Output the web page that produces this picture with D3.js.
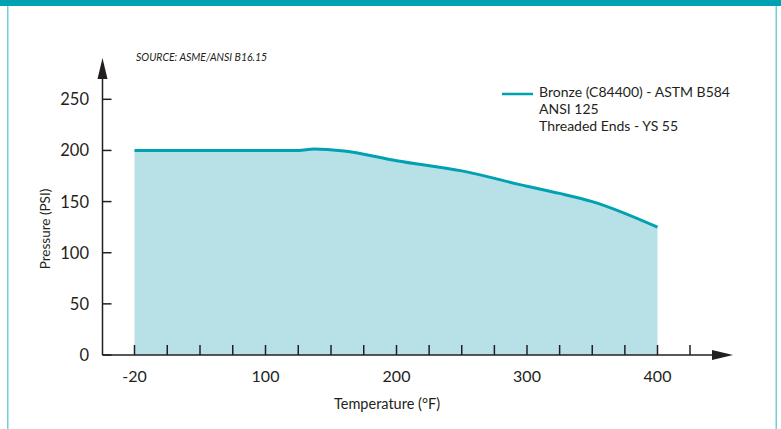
<!DOCTYPE html>
<html>
<head>
<meta charset="utf-8">
<script src="https://cdn.jsdelivr.net/npm/d3@7/dist/d3.min.js"></script>
<style>
  html, body { margin: 0; padding: 0; background: #fff; }
  svg { display: block; }
  text { font-family: Lato, "Open Sans", sans-serif; fill: #231f20; }
</style>
</head>
<body>
<svg id="chart" width="781" height="429"></svg>
<script>
// ---- data ----
const temps = [-20, 125, 137, 160, 200, 250, 300, 325, 350, 400];
const pressures = [200, 200, 201.5, 199.5, 190, 180, 165, 158, 150, 125];
const xLabels = [-20, 100, 200, 300, 400];
const xTicks = [-20, 10, 40, 70, 100, 125, 150, 175, 200, 225, 250, 275, 300, 325, 350, 375, 400, 425];
const yTicks = [0, 50, 100, 150, 200, 250];
const seriesName = ["Bronze (C84400) - ASTM B584", "ANSI 125", "Threaded Ends - YS 55"];
const sourceText = "SOURCE: ASME/ANSI B16.15";

const svg = d3.select("#chart");
const teal = "#00a1b1";
const fill = "#b8e1e7";
const ink = "#231f20";

// frame
svg.append("rect").attr("x", 0).attr("y", 0).attr("width", 781).attr("height", 6).attr("fill", teal);
svg.append("rect").attr("x", 7).attr("y", 6).attr("width", 1.5).attr("height", 423).attr("fill", "#72d0d8");
svg.append("rect").attr("x", 775.5).attr("y", 6).attr("width", 1.5).attr("height", 423).attr("fill", "#72d0d8");

// scales (polylinear: labelled ticks evenly spaced)
const x = d3.scaleLinear()
  .domain([-20, 100, 200, 300, 400, 425])
  .range([134.5, 265.5, 396.5, 527, 657.5, 690]);
const y = d3.scaleLinear().domain([0, 250]).range([355, 99.3]);

const data = temps.map((t, i) => ({ t, p: pressures[i] }));

// area
const area = d3.area().x(d => x(d.t)).y0(y(0)).y1(d => y(d.p)).curve(d3.curveMonotoneX);
svg.append("path").datum(data).attr("d", area).attr("fill", fill);

// line
const line = d3.line().x(d => x(d.t)).y(d => y(d.p)).curve(d3.curveMonotoneX);
svg.append("path").datum(data).attr("d", line)
  .attr("fill", "none").attr("stroke", teal).attr("stroke-width", 3);

// x axis
const x0 = 102.5, xEnd = 733, yAxisY = y(0);
svg.append("line").attr("x1", x0).attr("x2", xEnd - 18).attr("y1", yAxisY).attr("y2", yAxisY)
  .attr("stroke", ink).attr("stroke-width", 1.5);
svg.append("path").attr("d", `M${xEnd},${yAxisY} L${xEnd - 21},${yAxisY - 5} L${xEnd - 21},${yAxisY + 5} Z`).attr("fill", ink);
svg.append("g").selectAll("line").data(xTicks).join("line")
  .attr("x1", d => x(d)).attr("x2", d => x(d))
  .attr("y1", yAxisY).attr("y2", yAxisY - 10)
  .attr("stroke", ink).attr("stroke-width", 1.5);
svg.append("g").selectAll("text").data(xLabels).join("text")
  .attr("x", d => x(d)).attr("y", 382)
  .attr("text-anchor", "middle").attr("font-size", 16)
  .text(d => d);
svg.append("text").attr("x", 387).attr("y", 409).attr("text-anchor", "middle")
  .attr("font-size", 14.5).text("Temperature (°F)");

// y axis
const yTop = 58;
svg.append("line").attr("x1", x0).attr("x2", x0).attr("y1", yAxisY).attr("y2", yTop + 18)
  .attr("stroke", ink).attr("stroke-width", 1.5);
svg.append("path").attr("d", `M${x0},${yTop} L${x0 - 5},${yTop + 21} L${x0 + 5},${yTop + 21} Z`).attr("fill", ink);
svg.append("g").selectAll("line").data(yTicks).join("line")
  .attr("x1", x0).attr("x2", x0 + 9)
  .attr("y1", d => y(d)).attr("y2", d => y(d))
  .attr("stroke", ink).attr("stroke-width", 1.5);
svg.append("g").selectAll("text").data(yTicks).join("text")
  .attr("x", 89).attr("y", d => y(d) + 6)
  .attr("text-anchor", "end").attr("font-size", 16.5)
  .text(d => d);
svg.append("text").attr("transform", "translate(50,229) rotate(-90)")
  .attr("text-anchor", "middle").attr("font-size", 13.5).text("Pressure (PSI)");

// source
svg.append("text").attr("x", 136).attr("y", 61).attr("font-size", 10.5)
  .attr("font-style", "italic").text(sourceText);

// legend
svg.append("line").attr("x1", 502).attr("x2", 533).attr("y1", 94).attr("y2", 94)
  .attr("stroke", teal).attr("stroke-width", 2.5);
svg.append("g").selectAll("text").data(seriesName).join("text")
  .attr("x", 539).attr("y", (d, i) => 97 + i * 17)
  .attr("font-size", 14).text(d => d);
</script>
</body>
</html>
